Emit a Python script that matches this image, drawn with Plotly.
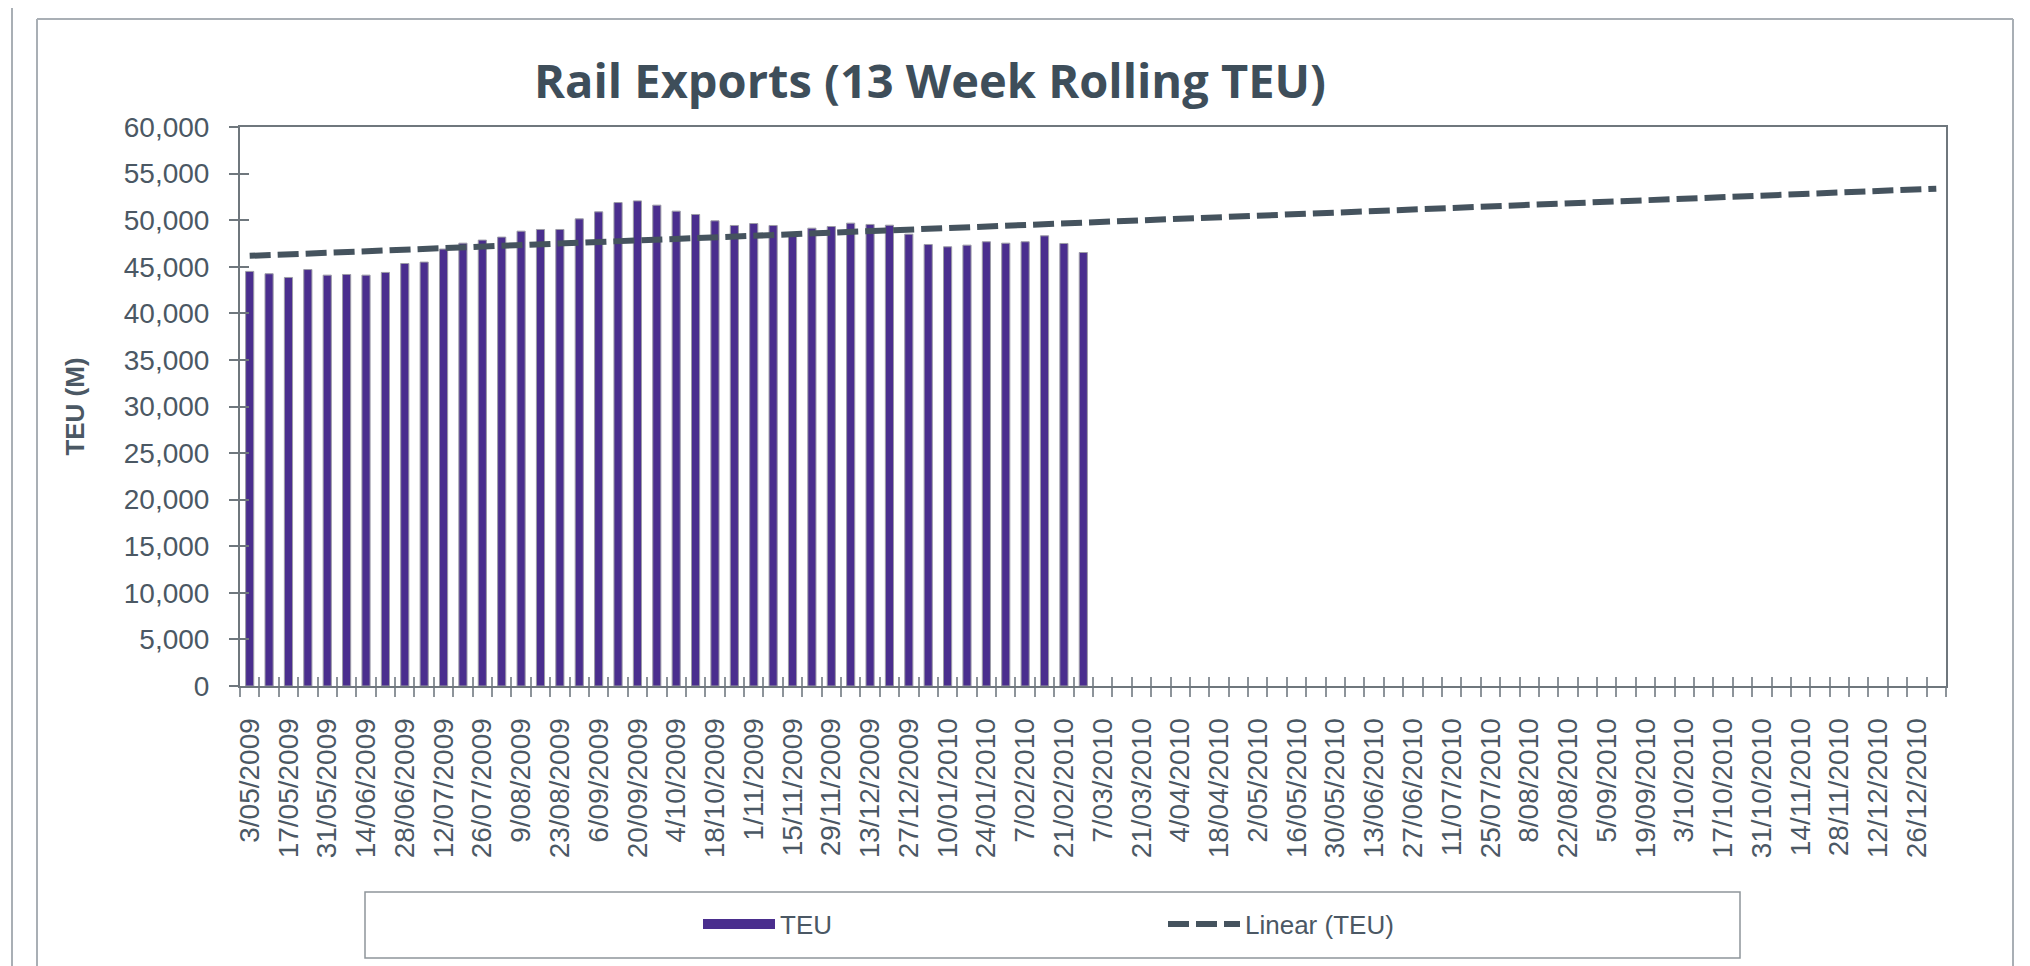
import plotly.graph_objects as go
import numpy as np
from datetime import date, timedelta

# ---- categories: weekly periods on the x axis ----
first_week = date(2009, 5, 3)
n_weeks = 88
week_labels = [
    f"{d.day}/{d.month:02d}/{d.year}"
    for d in (first_week + timedelta(weeks=i) for i in range(n_weeks))
]

# ---- series values (13 week rolling TEU) ----
teu = [
    44500, 44250, 43850, 44700, 44100, 44170, 44100, 44390, 45350, 45500,
    46900, 47530, 47860, 48180, 48820, 49000, 49000, 50140, 50890, 51890,
    52070, 51610, 50970, 50610, 49930, 49430, 49640, 49430, 48300, 49140,
    49320, 49680, 49540, 49460, 48500, 47390, 47140, 47320, 47680, 47530,
    47680, 48320, 47500, 46530,
]

# ---- y axis ticks ----
y_ticks = list(range(0, 60001, 5000))

# ---- derived positions ----
x_all = list(range(n_weeks))
x_bars = x_all[: len(teu)]
slope, intercept = np.polyfit(x_bars, teu, 1)   # Excel "Linear" trendline
trend = [intercept + slope * i for i in x_all]
tick_vals = x_all[::2]
tick_text = week_labels[::2]
boundaries = [i - 0.5 for i in range(n_weeks + 1)]

PURPLE = "#4A2E8E"
SLATE = "#45535E"
TEXT = "#4B5864"
AXIS = "#6F777D"
BORDER = "#A9AFB5"
FONT = "Liberation Sans, Arial, sans-serif"

fig = go.Figure()
fig.add_trace(go.Bar(
    x=x_bars, y=teu, name="TEU", showlegend=False,
    marker=dict(color=PURPLE, line=dict(color="#9C9CA6", width=1)),
))
fig.add_trace(go.Scatter(
    x=[None], y=[None], name="TEU", mode="lines",
    line=dict(color=PURPLE, width=14), legendrank=1,
))
fig.add_trace(go.Scatter(
    x=x_all, y=trend, name="Linear (TEU)", mode="lines",
    line=dict(color=SLATE, width=6, dash="21px,7px"), legendrank=2,
))
# helper trace for the overlay axes (inside half of the crossing tick marks)
fig.add_trace(go.Scatter(x=[None], y=[None], xaxis="x2", yaxis="y2",
                         showlegend=False, hoverinfo="skip"))

W, H = 2030, 966
L, R, T, B = 232, 2030 - 1938, 119, 966 - 678
pw, ph = W - L - R, H - T - B


def px_x(p):
    return (p - L) / pw


def px_y(p):
    return (H - B - p) / ph


fig.update_layout(
    width=W, height=H, autosize=False,
    margin=dict(l=L, r=R, t=T, b=B, autoexpand=False),
    paper_bgcolor="white", plot_bgcolor="white",
    bargap=0.58,
    font=dict(family=FONT, color=TEXT),
    title=dict(
        text="<b>Rail Exports (13 Week Rolling TEU)</b>",
        font=dict(family="Open Sans, sans-serif", size=47, color="#3E4E5A"),
        x=922 / W, xanchor="center", xref="container",
        y=1 - 74 / H, yanchor="middle", yref="container",
    ),
    xaxis=dict(
        range=[-0.5, n_weeks - 0.5],
        tickmode="array", tickvals=tick_vals, ticktext=tick_text,
        tickangle=-90, tickfont=dict(size=28, color=TEXT, family=FONT),
        ticks="outside", ticklen=9, tickcolor="rgba(0,0,0,0)",
        ticklabelstandoff=10,
        minor=dict(tickmode="array", tickvals=boundaries, ticks="outside",
                   ticklen=9, tickcolor="#8D949A", tickwidth=1.5, showgrid=False),
        showline=True, linecolor=AXIS, linewidth=2, mirror=True,
        showgrid=False, zeroline=False, automargin=False,
    ),
    xaxis2=dict(
        overlaying="x", anchor="y", side="bottom",
        range=[-0.5, n_weeks - 0.5],
        tickmode="array", tickvals=boundaries, ticks="inside", ticklen=9,
        tickcolor="#8D949A", tickwidth=1.5, showticklabels=False,
        showline=False, showgrid=False, zeroline=False,
    ),
    yaxis=dict(
        range=[0, 60000], tickmode="array", tickvals=y_ticks,
        tickformat=",", tickfont=dict(size=28, color=TEXT, family=FONT),
        ticks="outside", ticklen=9, tickcolor=AXIS, tickwidth=1.5,
        ticklabelstandoff=14,
        showline=True, linecolor=AXIS, linewidth=2, mirror=True,
        showgrid=False, zeroline=False, automargin=False,
        title=dict(text="<b>TEU (M)</b>", standoff=32,
                   font=dict(size=26, color=TEXT, family=FONT)),
    ),
    yaxis2=dict(
        overlaying="y", anchor="x", side="left",
        range=[0, 60000], tickmode="array", tickvals=y_ticks,
        ticks="inside", ticklen=9, tickcolor=AXIS, tickwidth=1.5,
        showticklabels=False, showline=False, showgrid=False, zeroline=False,
    ),
    legend=dict(
        orientation="h", x=px_x(690), y=px_y(916),
        xanchor="left", yanchor="middle",
        font=dict(size=26, color=TEXT, family=FONT),
        itemwidth=72, entrywidth=378, bgcolor="rgba(0,0,0,0)",
        traceorder="normal",
    ),
    shapes=[
        # legend frame
        dict(type="rect", xref="paper", yref="paper",
             x0=px_x(357), x1=px_x(1732), y0=px_y(950), y1=px_y(884),
             line=dict(color="#8E959B", width=1.5)),
        # chart frame
        dict(type="line", xref="paper", yref="paper",
             x0=px_x(29), x1=px_x(29), y0=px_y(H + 10), y1=px_y(11),
             line=dict(color=BORDER, width=2)),
        dict(type="line", xref="paper", yref="paper",
             x0=px_x(29), x1=px_x(2005), y0=px_y(11), y1=px_y(11),
             line=dict(color=BORDER, width=2)),
        dict(type="line", xref="paper", yref="paper",
             x0=px_x(2005), x1=px_x(2005), y0=px_y(11), y1=px_y(H + 10),
             line=dict(color=BORDER, width=2)),
        dict(type="line", xref="paper", yref="paper",
             x0=px_x(4), x1=px_x(4), y0=px_y(H + 10), y1=px_y(-10),
             line=dict(color=BORDER, width=2)),
    ],
)

fig.write_html("out.html")
